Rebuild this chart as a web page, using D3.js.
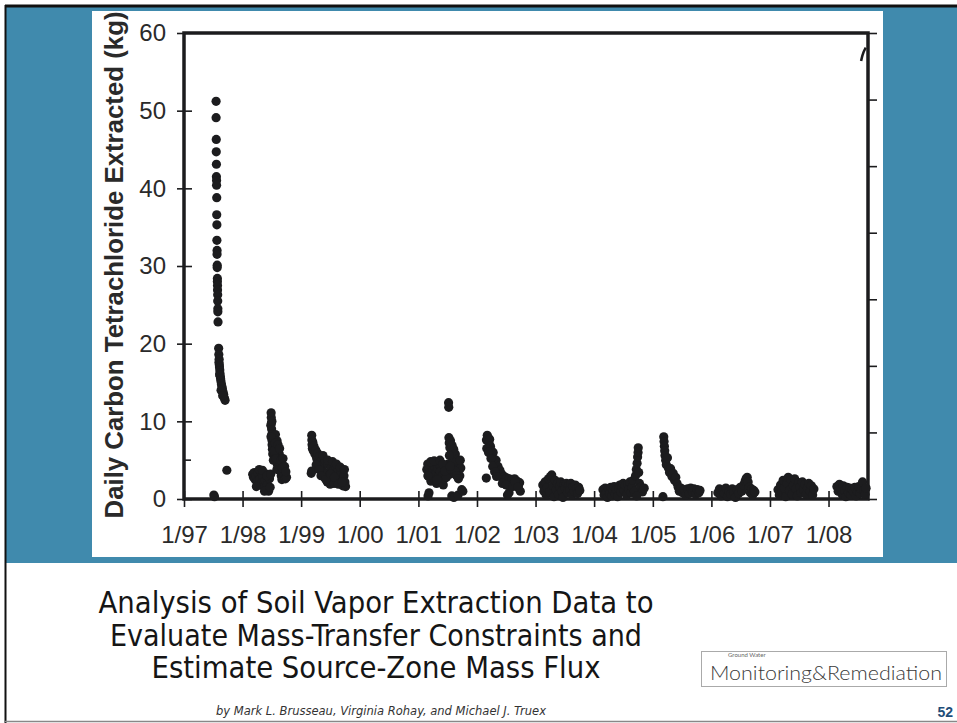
<!DOCTYPE html>
<html lang="en">
<head>
<meta charset="UTF-8">
<title>Daily Carbon Tetrachloride Extracted</title>
<script src="https://cdn.jsdelivr.net/npm/d3@7"></script>
<style>
    body { margin: 0; background: #fff; }
    svg { display: block; }
    .tick text { font-family: Arial, "Liberation Sans", sans-serif; fill: #2a2a2a; }
</style>
</head>
<body>
<div id="chart"></div>
<script>
// x axis ticks and labels
const xTickDates = ["1997-01-01","1998-01-01","1999-01-01","2000-01-01","2001-01-01","2002-01-01",
                    "2003-01-01","2004-01-01","2005-01-01","2006-01-01","2007-01-01","2008-01-01"];
const xTickLabels = ["1/97","1/98","1/99","1/00","1/01","1/02","1/03","1/04","1/05","1/06","1/07","1/08"];
const yTicks = [0, 10, 20, 30, 40, 50, 60];
const yMinorTicks = [5];
const rightTicks = [0, 1, 2, 3, 4, 5, 6, 7];

// daily extraction (kg) per operating period, [date, value]
const run1997 = [
    ["1997-07-20",51.2],["1997-07-20",49.1],["1997-07-21",46.3],["1997-07-21",44.7],["1997-07-22",43.1],
    ["1997-07-22",41.5],["1997-07-23",41.0],["1997-07-23",40.4],["1997-07-24",38.8],["1997-07-24",36.6],
    ["1997-07-25",35.3],["1997-07-25",33.3],["1997-07-26",32.0],["1997-07-26",31.5],["1997-07-27",30.1],
    ["1997-07-27",29.8],["1997-07-28",28.4],["1997-07-28",28.0],["1997-07-29",27.5],["1997-07-29",26.9],
    ["1997-07-30",26.3],["1997-07-30",25.5],["1997-07-31",24.5],["1997-07-31",24.1],["1997-08-01",22.8],
    ["1997-08-05",19.4],["1997-08-06",18.6],["1997-08-08",18.0],["1997-08-09",17.3],["1997-08-10",17.0],
    ["1997-08-12",16.6],["1997-08-13",16.2],["1997-08-15",15.8],["1997-08-17",15.5],["1997-08-19",15.2],
    ["1997-08-22",14.8],["1997-08-25",14.5],["1997-08-28",14.2],["1997-09-01",13.8],["1997-09-05",13.5],
    ["1997-09-10",13.0],["1997-09-14",12.7],["1997-08-07",17.6],["1997-08-11",16.0],["1997-08-20",14.0],
    ["1997-08-30",13.3],["1997-07-06",0.5],["1997-07-10",0.3],["1997-09-25",3.7]
];
const run1998 = [
    ["1998-03-05",3.2],["1998-03-10",2.8],["1998-03-15",3.4],["1998-03-20",2.5],["1998-03-25",3.0],
    ["1998-04-01",2.2],["1998-04-06",3.3],["1998-04-12",1.8],["1998-04-18",2.6],["1998-04-25",3.5],
    ["1998-05-01",2.0],["1998-05-08",2.9],["1998-05-15",1.5],["1998-05-22",2.4],["1998-05-30",3.2],
    ["1998-06-05",1.8],["1998-06-12",1.0],["1998-06-18",2.6],["1998-03-28",1.6],["1998-04-15",3.8],
    ["1998-05-05",3.7],["1998-05-18",1.0],["1998-06-01",3.0],["1998-06-22",1.5],["1998-06-25",3.2],
    ["1998-06-28",11.1],["1998-06-29",10.5],["1998-06-30",9.8],["1998-07-01",9.0],["1998-07-02",8.3],
    ["1998-07-03",7.6],["1998-07-04",7.0],["1998-07-06",6.4],["1998-07-08",5.8],["1998-07-05",8.0],
    ["1998-07-07",7.3],["1998-07-10",6.8],["1998-07-15",8.0],["1998-07-20",7.6],["1998-07-25",8.3],
    ["1998-07-28",7.0],["1998-08-01",6.5],["1998-08-04",7.5],["1998-08-08",6.0],["1998-08-12",5.5],
    ["1998-08-15",4.8],["1998-08-18",5.8],["1998-08-22",4.2],["1998-08-26",3.5],["1998-08-30",3.0],
    ["1998-09-03",2.5],["1998-07-22",5.5],["1998-08-05",4.5],["1998-09-15",3.2],["1998-09-25",2.6],
    ["1998-10-02",2.8],["1998-06-26",9.5],["1998-06-27",8.0],["1998-07-03",10.0],["1998-07-12",5.0],
    ["1998-07-18",6.2],["1998-07-24",7.2],["1998-07-30",5.2],["1998-08-03",3.8],["1998-08-10",7.0],
    ["1998-08-20",6.5],["1998-08-28",5.0],["1998-09-06",4.0],["1998-09-10",5.2],["1998-09-20",4.2],
    ["1998-09-28",3.5]
];
const run1999 = [
    ["1999-03-08",8.2],["1999-03-09",7.6],["1999-03-10",7.0],["1999-03-12",6.5],["1999-03-05",3.3],
    ["1999-03-08",3.6],["1999-03-15",7.3],["1999-03-18",6.2],["1999-03-22",6.8],["1999-03-28",5.8],
    ["1999-04-02",6.3],["1999-04-08",5.2],["1999-04-14",5.9],["1999-04-20",4.8],["1999-04-26",5.5],
    ["1999-05-02",4.2],["1999-05-08",5.0],["1999-05-14",3.6],["1999-05-20",4.6],["1999-05-26",2.8],
    ["1999-06-01",4.9],["1999-06-07",3.3],["1999-06-13",2.2],["1999-06-19",4.4],["1999-06-25",3.0],
    ["1999-07-01",1.9],["1999-07-07",4.0],["1999-07-13",2.6],["1999-07-19",3.6],["1999-07-25",2.0],
    ["1999-07-31",4.3],["1999-08-06",3.1],["1999-08-12",2.4],["1999-08-18",3.8],["1999-08-24",2.9],
    ["1999-08-30",2.0],["1999-09-05",3.3],["1999-09-12",2.5],["1999-09-18",1.7],["1999-09-25",3.0],
    ["1999-10-01",2.2],["1999-10-05",1.6],["1999-04-05",4.4],["1999-04-22",3.8],["1999-05-05",3.0],
    ["1999-05-17",5.6],["1999-06-04",2.5],["1999-06-16",5.0],["1999-07-04",3.2],["1999-07-16",4.8],
    ["1999-07-28",2.8],["1999-08-09",4.5],["1999-08-21",1.9],["1999-09-02",4.1],["1999-09-15",2.2],
    ["1999-09-28",3.8]
];
const run2001 = [
    ["2001-02-22",3.8],["2001-02-28",4.5],["2001-03-05",2.9],["2001-03-10",4.0],["2001-03-15",3.4],
    ["2001-03-20",2.3],["2001-03-26",4.6],["2001-04-01",3.7],["2001-04-06",2.7],["2001-04-12",4.2],
    ["2001-04-18",3.2],["2001-04-24",2.0],["2001-04-30",3.9],["2001-05-06",2.9],["2001-05-12",4.4],
    ["2001-05-18",3.5],["2001-05-24",2.4],["2001-05-30",3.0],["2001-06-05",1.8],["2001-06-12",2.6],
    ["2001-03-08",0.8],["2001-03-02",0.4],["2001-07-08",12.4],["2001-07-09",11.8],
    ["2001-07-10",7.9],["2001-07-12",7.2],["2001-07-16",6.6],["2001-07-20",7.5],["2001-07-25",6.0],
    ["2001-07-30",6.9],["2001-08-04",5.3],["2001-08-09",6.4],["2001-08-14",4.6],["2001-08-19",5.8],
    ["2001-08-24",4.0],["2001-08-29",5.1],["2001-09-03",3.5],["2001-09-10",4.3],["2001-09-16",3.0],
    ["2001-09-22",4.0],["2001-07-05",4.5],["2001-07-15",3.2],["2001-06-25",2.8],["2001-06-20",4.0],
    ["2001-07-28",0.4],["2001-08-10",0.2],["2001-09-05",0.5],["2001-09-28",1.2],["2001-10-05",1.0],
    ["2001-03-01",3.0],["2001-03-18",4.8],["2001-04-09",4.9],["2001-04-27",2.5],["2001-05-15",5.0],
    ["2001-06-01",4.5],["2001-06-15",3.6],["2001-07-22",3.8],["2001-08-01",4.8],["2001-08-16",3.6],
    ["2001-08-27",3.0],["2001-09-07",2.6],["2001-09-19",5.0],["2001-07-13",5.6],["2001-07-18",4.2]
];
const run2002 = [
    ["2002-03-01",7.6],["2002-03-06",8.2],["2002-03-11",7.9],["2002-03-16",7.3],["2002-03-21",7.7],
    ["2002-03-26",6.8],["2002-04-01",6.2],["2002-04-06",5.5],["2002-04-12",6.0],["2002-04-18",4.9],
    ["2002-04-24",4.3],["2002-04-30",5.0],["2002-05-06",3.8],["2002-05-12",4.2],["2002-05-18",3.3],
    ["2002-05-24",3.7],["2002-05-30",2.9],["2002-02-28",2.7],["2002-06-05",3.2],["2002-06-12",2.6],
    ["2002-06-20",2.9],["2002-06-28",2.3],["2002-07-06",2.7],["2002-07-14",2.1],["2002-07-22",2.6],
    ["2002-07-30",1.9],["2002-08-07",2.5],["2002-08-15",2.0],["2002-08-23",2.6],["2002-08-31",1.8],
    ["2002-09-08",2.3],["2002-09-16",1.6],["2002-09-24",2.1],["2002-09-28",1.0],["2002-07-20",0.8],
    ["2002-07-10",0.5],["2002-03-03",6.5],["2002-03-14",6.0],["2002-03-29",5.2],["2002-04-09",4.2],
    ["2002-04-21",3.5],["2002-05-03",2.9],["2002-06-08",2.0],["2002-07-02",1.8],["2002-08-11",1.6],
    ["2002-08-27",2.2],["2002-09-12",1.5]
];
const run2003 = [
    ["2003-02-15",1.8],["2003-02-22",1.0],["2003-03-01",2.2],["2003-03-08",0.5],["2003-03-15",1.5],
    ["2003-03-22",2.6],["2003-03-29",0.9],["2003-04-05",2.9],["2003-04-12",3.1],["2003-04-19",1.7],
    ["2003-04-26",0.3],["2003-05-03",2.4],["2003-05-10",1.2],["2003-05-17",2.0],["2003-05-24",0.6],
    ["2003-05-31",1.6],["2003-06-07",2.2],["2003-06-14",1.0],["2003-06-21",0.2],["2003-06-28",1.9],
    ["2003-07-05",1.4],["2003-07-12",2.0],["2003-07-19",0.8],["2003-07-26",1.7],["2003-08-02",1.2],
    ["2003-08-09",2.0],["2003-08-16",0.5],["2003-08-23",1.6],["2003-08-30",1.0],["2003-09-06",1.8],
    ["2003-09-13",1.3],["2003-09-20",0.7],["2003-09-27",1.5],["2003-10-04",1.1]
];
const run2004 = [
    ["2004-02-25",1.2],["2004-03-03",0.5],["2004-03-10",1.4],["2004-03-17",0.8],["2004-03-24",0.2],
    ["2004-03-31",1.3],["2004-04-07",0.7],["2004-04-14",1.5],["2004-04-21",0.4],["2004-04-28",1.1],
    ["2004-05-05",1.6],["2004-05-12",0.6],["2004-05-19",1.2],["2004-05-26",0.3],["2004-06-02",1.4],
    ["2004-06-09",1.8],["2004-06-16",0.9],["2004-06-23",1.6],["2004-06-30",2.0],["2004-07-07",1.1],
    ["2004-07-14",1.7],["2004-07-21",0.5],["2004-07-28",1.9],["2004-08-04",1.3],["2004-08-11",2.2],
    ["2004-08-18",0.8],["2004-08-25",1.5],["2004-09-01",2.4],["2004-09-08",1.0],["2004-09-15",3.0],
    ["2004-09-20",3.8],["2004-09-25",4.6],["2004-09-28",5.4],["2004-10-01",6.0],["2004-10-02",6.6],
    ["2004-10-05",3.4],["2004-10-10",2.0],["2004-10-18",1.5],["2004-10-28",0.9],["2004-11-08",1.4],
    ["2004-09-22",0.4]
];
const run2005 = [
    ["2005-03-10",8.0],["2005-03-12",7.4],["2005-03-14",6.8],["2005-03-16",6.2],["2005-03-18",5.6],
    ["2005-03-22",5.0],["2005-03-26",4.4],["2005-04-02",5.3],["2005-04-08",4.0],["2005-04-15",3.4],
    ["2005-04-22",3.9],["2005-04-30",2.9],["2005-05-08",3.3],["2005-05-16",2.4],["2005-05-24",2.8],
    ["2005-06-01",2.0],["2005-06-08",1.5],["2005-06-15",1.0],["2005-06-25",1.4],["2005-07-05",0.8],
    ["2005-07-15",1.2],["2005-07-25",0.5],["2005-08-05",1.3],["2005-08-15",0.7],["2005-08-25",1.4],
    ["2005-09-05",0.9],["2005-09-15",1.3],["2005-09-25",0.6],["2005-10-05",1.2],["2005-10-15",0.8],
    ["2005-10-22",1.1],["2005-03-05",0.3]
];
const run2006 = [
    ["2006-02-10",0.8],["2006-02-20",1.3],["2006-03-02",0.4],["2006-03-12",1.1],["2006-03-22",0.7],
    ["2006-04-01",1.4],["2006-04-11",0.3],["2006-04-21",1.0],["2006-05-01",0.6],["2006-05-11",1.3],
    ["2006-05-21",0.9],["2006-05-31",0.2],["2006-06-10",1.2],["2006-06-20",0.7],["2006-06-30",1.5],
    ["2006-07-10",1.0],["2006-07-20",1.8],["2006-07-30",2.3],["2006-08-05",2.6],["2006-08-12",2.8],
    ["2006-08-18",2.2],["2006-08-25",1.5],["2006-09-01",0.8],["2006-09-08",1.3],["2006-09-15",0.5],
    ["2006-09-22",1.1],["2006-09-29",0.9]
];
const run2007 = [
    ["2007-02-20",1.2],["2007-02-28",0.5],["2007-03-08",1.8],["2007-03-16",0.9],["2007-03-24",2.4],
    ["2007-04-01",1.4],["2007-04-09",0.3],["2007-04-17",2.0],["2007-04-25",2.8],["2007-05-03",1.1],
    ["2007-05-11",2.5],["2007-05-19",0.6],["2007-05-27",1.7],["2007-06-04",2.6],["2007-06-12",1.3],
    ["2007-06-20",0.4],["2007-06-28",2.1],["2007-07-06",1.5],["2007-07-14",0.8],["2007-07-22",2.2],
    ["2007-07-30",1.2],["2007-08-07",1.9],["2007-08-15",0.6],["2007-08-23",1.4],["2007-08-31",2.0],
    ["2007-09-08",1.0],["2007-09-16",1.7],["2007-09-24",0.5],["2007-10-02",1.3]
];
const run2008 = [
    ["2008-02-22",1.6],["2008-03-01",1.0],["2008-03-09",1.9],["2008-03-17",1.3],["2008-03-25",0.6],
    ["2008-04-02",1.7],["2008-04-10",1.1],["2008-04-18",0.3],["2008-04-26",1.5],["2008-05-04",0.8],
    ["2008-05-12",1.4],["2008-05-20",0.5],["2008-05-28",1.2],["2008-06-05",0.9],["2008-06-13",1.5],
    ["2008-06-21",0.4],["2008-06-29",1.0],["2008-07-07",1.6],["2008-07-15",0.7],["2008-07-23",1.3],
    ["2008-07-31",2.2],["2008-08-08",1.1],["2008-08-16",0.6],["2008-08-22",1.4]
];
// tail of the right-axis (cumulative) curve, visible at the top right
const cumulativeTail = [["2008-07-22",6.58],["2008-07-30",6.66],["2008-08-20",6.78]];

const titleLines = ["Analysis of Soil Vapor Extraction Data to",
                    "Evaluate Mass-Transfer Constraints and",
                    "Estimate Source-Zone Mass Flux"];
const byline = "by Mark L. Brusseau, Virginia Rohay, and Michael J. Truex";

const W = 957, H = 723;
const parse = d3.timeParse("%Y-%m-%d");
const points = [run1997, run1998, run1999, run2001, run2002, run2003, run2004,
                run2005, run2006, run2007, run2008].flat()
    .map(d => ({ date: parse(d[0]), value: d[1] }));

const svg = d3.select("#chart").append("svg")
    .attr("width", W)
    .attr("height", H);

// slide background
svg.append("rect").attr("x", 6).attr("y", 7).attr("width", W - 6).attr("height", 556).attr("fill", "#408aad");
svg.append("rect").attr("x", 92).attr("y", 11).attr("width", 791).attr("height", 546).attr("fill", "#fff");
svg.append("line").attr("x1", 5).attr("x2", W).attr("y1", 6).attr("y2", 6).attr("stroke", "#111").attr("stroke-width", 3);
svg.append("line").attr("x1", 5.5).attr("x2", 5.5).attr("y1", 5).attr("y2", H).attr("stroke", "#111").attr("stroke-width", 2);
svg.append("line").attr("x1", 5).attr("x2", W).attr("y1", 721.5).attr("y2", 721.5).attr("stroke", "#888").attr("stroke-width", 1.5);

const plotLeft = 184, plotRight = 868, plotTop = 33, plotBottom = 499;

const x = d3.scaleTime()
    .domain([parse("1997-01-01"), parse("2008-09-03")])
    .range([plotLeft, plotRight]);
const y = d3.scaleLinear().domain([0, 60]).range([plotBottom, plotTop]);
const yRight = d3.scaleLinear().domain([0, 7]).range([plotBottom, plotTop]);

const ink = "#1c1c1e";

// x axis
const xAxis = svg.append("g")
    .attr("transform", `translate(0,${plotBottom})`)
    .call(d3.axisBottom(x)
        .tickValues(xTickDates.map(parse))
        .tickFormat((d, i) => xTickLabels[i])
        .tickSize(8)
        .tickPadding(19));
xAxis.select(".domain").remove();
xAxis.selectAll(".tick line").attr("y1", -8).attr("stroke", ink).attr("stroke-width", 1.6);
xAxis.selectAll(".tick text").style("font-size", "24px");

// left y axis
const yAxis = svg.append("g")
    .attr("transform", `translate(${plotLeft},0)`)
    .call(d3.axisLeft(y).tickValues(yTicks).tickSize(7).tickPadding(11));
yAxis.select(".domain").remove();
yAxis.selectAll(".tick line")
    .attr("x1", d => d === 60 ? 0 : 8)
    .attr("stroke", ink).attr("stroke-width", 1.6);
yAxis.selectAll(".tick text").style("font-size", "24px");

svg.append("g")
    .selectAll("line")
    .data(yMinorTicks)
    .join("line")
    .attr("x1", plotLeft).attr("x2", plotLeft + 7)
    .attr("y1", d => y(d)).attr("y2", d => y(d))
    .attr("stroke", ink).attr("stroke-width", 1.6);

// right axis, unlabeled
const rAxis = svg.append("g")
    .attr("transform", `translate(${plotRight},0)`)
    .call(d3.axisRight(yRight).tickValues(rightTicks).tickFormat("").tickSize(9));
rAxis.select(".domain").remove();
rAxis.selectAll(".tick line").attr("stroke", ink).attr("stroke-width", 1.6);

// frame
svg.append("rect")
    .attr("x", plotLeft).attr("y", plotTop)
    .attr("width", plotRight - plotLeft).attr("height", plotBottom - plotTop)
    .attr("fill", "none").attr("stroke", ink).attr("stroke-width", 3.5);

// y title
svg.append("text")
    .attr("transform", "translate(123,265) rotate(-90)")
    .attr("text-anchor", "middle")
    .style("font-family", "Arial, 'Liberation Sans', sans-serif")
    .style("font-weight", "bold")
    .style("font-size", "25.8px")
    .attr("fill", "#2a2a2a")
    .text("Daily Carbon Tetrachloride Extracted (kg)");

// cumulative tail
svg.append("path")
    .datum(cumulativeTail.map(d => ({ date: parse(d[0]), value: d[1] })))
    .attr("d", d3.line().x(d => x(d.date)).y(d => yRight(d.value)).curve(d3.curveMonotoneX))
    .attr("fill", "none").attr("stroke", ink).attr("stroke-width", 2.5);

// data points
svg.append("g")
    .selectAll("circle")
    .data(points)
    .join("circle")
    .attr("cx", d => x(d.date))
    .attr("cy", d => y(d.value))
    .attr("r", 4.6)
    .attr("fill", ink);

// article title block
const titleFont = "'Liberation Sans Narrow', 'DejaVu Sans Condensed', Arial, sans-serif";
const titleWidths = [555, 532, 449];
svg.append("g")
    .selectAll("text")
    .data(titleLines)
    .join("text")
    .attr("x", 376)
    .attr("y", (d, i) => 613 + i * 32.5)
    .attr("text-anchor", "middle")
    .attr("textLength", (d, i) => titleWidths[i])
    .attr("lengthAdjust", "spacingAndGlyphs")
    .style("font-family", titleFont)
    .style("font-size", "30px")
    .attr("fill", "#151515")
    .text(d => d);

svg.append("text")
    .attr("x", 381).attr("y", 715)
    .attr("text-anchor", "middle")
    .attr("textLength", 330)
    .attr("lengthAdjust", "spacingAndGlyphs")
    .style("font-family", titleFont)
    .style("font-style", "italic")
    .style("font-size", "13px")
    .attr("fill", "#333")
    .text(byline);

// journal logo
svg.append("rect")
    .attr("x", 701.5).attr("y", 651.5).attr("width", 245).attr("height", 35)
    .attr("fill", "#fff").attr("stroke", "#aaa").attr("stroke-width", 1);
svg.append("text")
    .attr("x", 710).attr("y", 680)
    .attr("textLength", 232)
    .attr("lengthAdjust", "spacingAndGlyphs")
    .style("font-family", "Lato, 'Open Sans', sans-serif")
    .style("font-weight", 300)
    .style("font-size", "20px")
    .attr("fill", "#3a3a3a")
    .text("Monitoring&Remediation");
svg.append("text")
    .attr("x", 728).attr("y", 657)
    .style("font-family", "Lato, 'Open Sans', sans-serif")
    .style("font-size", "6px")
    .attr("fill", "#666")
    .text("Ground Water");

// page number
svg.append("text")
    .attr("x", 953).attr("y", 717)
    .attr("text-anchor", "end")
    .style("font-family", "Arial, 'Liberation Sans', sans-serif")
    .style("font-weight", "bold")
    .style("font-size", "14px")
    .attr("fill", "#1f4e79")
    .text("52");
</script>
</body>
</html>
